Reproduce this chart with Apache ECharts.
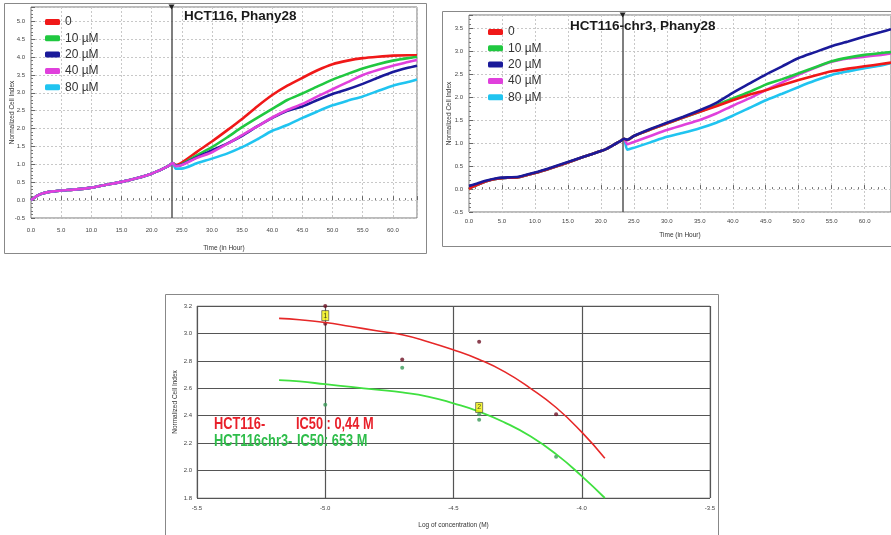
<!DOCTYPE html>
<html>
<head>
<meta charset="UTF-8">
<title>Phany28</title>
<script src="https://cdn.jsdelivr.net/npm/echarts@6/dist/echarts.min.js"></script>
<style>
  * { margin: 0; padding: 0; }
  body { background: #fff; }
  #main { width: 891px; height: 535px; }
</style>
</head>
<body>
<div id="main"></div>
<script>
// time axis (hours) shared by both top panels
var hours = [0, 0.5, 1, 2, 3, 4, 5, 7.5, 10, 12.5, 15, 17.5, 20, 21, 22, 23, 23.5,
             24, 25, 27.5, 30, 32.5, 35, 37.5, 40, 42.5, 45, 47.5, 50, 52.5, 55, 57.5, 60, 62.5, 64];
var treatTime = 23.3;
var doseNames = ['0', '10 µM', '20 µM', '40 µM', '80 µM'];
var doseColors = ['#f01818', '#20c840', '#1a1a9a', '#e040dc', '#20c4f0'];

// HCT116 panel
var preA = [0.0, 0.06, 0.12, 0.19, 0.23, 0.25, 0.27, 0.30, 0.35, 0.43, 0.51, 0.61, 0.74, 0.81, 0.89, 0.98, 1.04];
var a0  = preA.concat([0.98, 1.05, 1.35, 1.64, 1.95, 2.27, 2.62, 2.94, 3.20, 3.42, 3.63, 3.80, 3.90, 3.97, 4.01, 4.04, 4.05, 4.05]);
var a10 = preA.concat([0.97, 1.00, 1.25, 1.48, 1.75, 2.04, 2.30, 2.55, 2.80, 2.98, 3.18, 3.37, 3.53, 3.68, 3.80, 3.90, 3.97, 4.00]);
var a20 = preA.concat([0.96, 0.99, 1.20, 1.39, 1.58, 1.80, 2.06, 2.30, 2.50, 2.62, 2.80, 2.97, 3.10, 3.25, 3.42, 3.58, 3.70, 3.76]);
var a40 = preA.concat([0.95, 0.98, 1.18, 1.34, 1.57, 1.82, 2.06, 2.31, 2.52, 2.69, 2.90, 3.10, 3.30, 3.50, 3.64, 3.76, 3.86, 3.92]);
var a80 = preA.concat([0.88, 0.88, 1.03, 1.16, 1.30, 1.48, 1.70, 1.94, 2.10, 2.30, 2.48, 2.65, 2.78, 2.90, 3.05, 3.20, 3.30, 3.37]);

// HCT116-chr3 panel
var preB = [0.0, 0.05, 0.08, 0.14, 0.19, 0.22, 0.24, 0.26, 0.35, 0.46, 0.58, 0.71, 0.83, 0.89, 0.97, 1.05, 1.10];
var b0  = preB.concat([1.07, 1.16, 1.30, 1.43, 1.56, 1.69, 1.81, 1.94, 2.06, 2.16, 2.27, 2.38, 2.48, 2.57, 2.63, 2.68, 2.73, 2.76]);
var b10 = preB.concat([1.07, 1.16, 1.30, 1.43, 1.56, 1.69, 1.83, 1.98, 2.12, 2.28, 2.40, 2.53, 2.66, 2.79, 2.87, 2.93, 2.97, 2.99]);
var b20 = [0.07, 0.09, 0.11, 0.16, 0.2, 0.23, 0.25, 0.27, 0.36, 0.47, 0.59, 0.71, 0.83, 0.89, 0.97, 1.05, 1.10]
          .concat([1.08, 1.16, 1.31, 1.45, 1.58, 1.72, 1.88, 2.10, 2.30, 2.50, 2.68, 2.86, 2.99, 3.12, 3.22, 3.33, 3.43, 3.49]);
var b40 = preB.concat([0.98, 1.03, 1.16, 1.29, 1.40, 1.51, 1.65, 1.82, 1.98, 2.16, 2.33, 2.50, 2.65, 2.78, 2.85, 2.89, 2.93, 2.96]);
var b80 = preB.concat([0.86, 0.90, 1.02, 1.14, 1.23, 1.33, 1.45, 1.60, 1.77, 1.94, 2.08, 2.23, 2.37, 2.49, 2.57, 2.64, 2.70, 2.75]);

// dose-response panel
var logConc = [-5.18, -5.1, -5.0, -4.9, -4.8, -4.7, -4.6, -4.5, -4.4, -4.3, -4.2, -4.1, -4.0, -3.91];
var fitHct = [3.11, 3.10, 3.08, 3.05, 3.02, 2.99, 2.94, 2.88, 2.81, 2.72, 2.60, 2.46, 2.28, 2.09];
var fitChr = [2.66, 2.65, 2.63, 2.61, 2.59, 2.57, 2.54, 2.49, 2.43, 2.35, 2.25, 2.12, 1.96, 1.80];
var ptsHct = [[-5.0, 3.20], [-5.0, 3.07], [-4.7, 2.81], [-4.4, 2.94], [-4.1, 2.41]];
var ptsChr = [[-5.0, 2.48], [-4.7, 2.75], [-4.4, 2.41], [-4.4, 2.37], [-4.1, 2.10]];
var flags = [[-5.0, 3.13, '1'], [-4.4, 2.46, '2']];

function pairs(xs, ys) {
  return xs.map(function (x, i) { return [x, ys[i]]; });
}

var small = { fontSize: 6, color: '#444', fontFamily: 'Liberation Sans' };
var nameFont = { fontSize: 6.5, color: '#333', fontFamily: 'Liberation Sans' };

function timeAxis(idx, margin, gap) {
  return {
    type: 'value', gridIndex: idx, min: 0, max: 64, interval: 5,
    name: 'Time (in Hour)', nameLocation: 'middle', nameGap: gap,
    nameTextStyle: nameFont, nameMoveOverlap: false,
    axisLine: { show: false },
    axisTick: { inside: true, length: 4, lineStyle: { color: '#666' } },
    minorTick: { show: true, splitNumber: 5, length: 2, lineStyle: { color: '#777' } },
    axisLabel: Object.assign({ margin: margin, showMaxLabel: false,
      formatter: function (v) { return v.toFixed(1); } }, small),
    splitLine: { show: true, lineStyle: { color: '#c8c8c8', type: [2, 2] } }
  };
}
function indexAxis(idx, max, gap) {
  return {
    type: 'value', gridIndex: idx, min: -0.5, max: max, interval: 0.5,
    name: 'Normalized Cell Index', nameLocation: 'middle', nameGap: gap,
    nameTextStyle: nameFont, nameMoveOverlap: false,
    axisLine: { show: false },
    axisTick: { inside: true, length: 4, lineStyle: { color: '#666' } },
    minorTick: { show: true, splitNumber: 5, length: 2, lineStyle: { color: '#777' } },
    axisLabel: Object.assign({ margin: 6, showMaxLabel: false,
      formatter: function (v) { return v.toFixed(1); } }, small),
    splitLine: { show: true, lineStyle: { color: '#c8c8c8', type: [2, 2] } }
  };
}

function doseSeries(gi, names, datas, top) {
  var order = [0, 1, 2, 4, 3];
  if (gi === 1) order = [4, 3, 1, 0, 2];
  return order.map(function (k, j) {
    var s = {
      name: names[k], type: 'line', xAxisIndex: gi, yAxisIndex: gi,
      data: pairs(hours, datas[k]), showSymbol: false, smooth: 0.2,
      lineStyle: { width: 2.6, color: doseColors[k] }, itemStyle: { color: doseColors[k] },
      z: 3 + j
    };
    if (j === 0) {
      s.markLine = {
        silent: true, symbol: 'none', label: { show: false },
        lineStyle: { color: '#555', width: 1.5, type: 'solid' },
        data: [{ xAxis: treatTime }]
      };
      s.markPoint = {
        silent: true, symbol: 'triangle', symbolRotate: 180, symbolSize: [6, 5],
        itemStyle: { color: '#222' }, label: { show: false },
        data: [{ coord: [treatTime, top] }]
      };
    }
    return s;
  });
}

function legendAt(left, top) {
  return {
    left: left, top: top, orient: 'vertical', icon: 'roundRect',
    itemWidth: 15, itemHeight: 6, itemGap: 4.3, itemTextGap: 11,
    textStyle: { fontSize: 12, color: '#333', fontFamily: 'Liberation Sans', lineHeight: 12 },
    data: doseNames
  };
}

var chart = echarts.init(document.getElementById('main'));
var option = {
  backgroundColor: '#fff',
  animation: false,
  grid: [
    { left: 31, top: 7, width: 386, height: 211, show: true, borderColor: '#777', borderWidth: 1 },
    { left: 469, top: 15, width: 428, height: 197, show: true, borderColor: '#777', borderWidth: 1 },
    { left: 197, top: 306, width: 513, height: 192, show: true, borderColor: '#aaa', borderWidth: 1 }
  ],
  legend: [legendAt(40, 11), legendAt(483, 21)],
  xAxis: [
    timeAxis(0, 9, 27),
    timeAxis(1, 6, 20),
    {
      type: 'value', gridIndex: 2, min: -5.5, max: -3.5, interval: 0.5,
      name: 'Log of concentration (M)', nameLocation: 'middle', nameGap: 24,
      nameTextStyle: nameFont, nameMoveOverlap: false,
      axisLine: { show: false }, axisTick: { show: false },
      axisLabel: Object.assign({ margin: 7, formatter: function (v) { return v.toFixed(1); } }, small),
      splitLine: { show: true, lineStyle: { color: '#555', width: 1.2 } }
    }
  ],
  yAxis: [
    indexAxis(0, 5.4, 15.5),
    indexAxis(1, 3.8, 16),
    {
      type: 'value', gridIndex: 2, min: 1.8, max: 3.2, interval: 0.2,
      name: 'Normalized Cell Index', nameLocation: 'middle', nameGap: 18.5,
      nameTextStyle: nameFont, nameMoveOverlap: false,
      axisLine: { show: false }, axisTick: { show: false },
      axisLabel: Object.assign({ margin: 5, formatter: function (v) { return v.toFixed(1); } }, small),
      splitLine: { show: true, lineStyle: { color: '#555', width: 1.2 } }
    }
  ],
  series: [].concat(
    doseSeries(0, doseNames, [a0, a10, a20, a40, a80], 5.4),
    doseSeries(1, doseNames, [b0, b10, b20, b40, b80], 3.8),
    [
      { name: 'HCT116 fit', type: 'line', xAxisIndex: 2, yAxisIndex: 2, data: pairs(logConc, fitHct),
        showSymbol: false, smooth: true, lineStyle: { color: '#e62828', width: 1.6 } },
      { name: 'HCT116chr3 fit', type: 'line', xAxisIndex: 2, yAxisIndex: 2, data: pairs(logConc, fitChr),
        showSymbol: false, smooth: true, lineStyle: { color: '#40e040', width: 1.8 } },
      { name: 'HCT116 pts', type: 'scatter', xAxisIndex: 2, yAxisIndex: 2, data: ptsHct,
        symbolSize: 4, itemStyle: { color: '#6e1224' } },
      { name: 'HCT116chr3 pts', type: 'scatter', xAxisIndex: 2, yAxisIndex: 2, data: ptsChr,
        symbolSize: 4, itemStyle: { color: '#3a9a58' } },
      { name: 'flags', type: 'scatter', xAxisIndex: 2, yAxisIndex: 2, data: flags,
        symbol: 'rect', symbolSize: [7, 10], z: 6,
        itemStyle: { color: '#f2f20a', borderColor: '#444', borderWidth: 0.8 },
        label: { show: true, position: 'inside', fontSize: 7, color: '#222',
          formatter: function (p) { return p.value[2]; } } }
    ]
  ),
  graphic: [
    { type: 'rect', shape: { x: 4.5, y: 3.5, width: 422, height: 250 }, silent: true, z: -1,
      style: { fill: 'none', stroke: '#888', lineWidth: 1 } },
    { type: 'rect', shape: { x: 442.5, y: 11.5, width: 460, height: 235 }, silent: true, z: -1,
      style: { fill: 'none', stroke: '#888', lineWidth: 1 } },
    { type: 'rect', shape: { x: 165.5, y: 294.5, width: 553, height: 245 }, silent: true, z: -1,
      style: { fill: 'none', stroke: '#888', lineWidth: 1 } },
    { type: 'text', x: 184, y: 16, silent: true, z: 10,
      style: { text: 'HCT116, Phany28', font: 'bold 13.5px "Liberation Sans"', fill: '#1a1a1a', verticalAlign: 'middle' } },
    { type: 'text', x: 570, y: 26, silent: true, z: 10,
      style: { text: 'HCT116-chr3, Phany28', font: 'bold 13.5px "Liberation Sans"', fill: '#1a1a1a', verticalAlign: 'middle' } },
    { type: 'text', x: 214, y: 425, scaleX: 0.8, silent: true, z: 10,
      style: { text: 'HCT116-', font: 'bold 16px "Liberation Sans"', fill: '#e8202a', verticalAlign: 'middle' } },
    { type: 'text', x: 296, y: 425, scaleX: 0.8, silent: true, z: 10,
      style: { text: 'IC50 : 0,44 M', font: 'bold 16px "Liberation Sans"', fill: '#e8202a', verticalAlign: 'middle' } },
    { type: 'text', x: 214, y: 442, scaleX: 0.8, silent: true, z: 10,
      style: { text: 'HCT116chr3-', font: 'bold 16px "Liberation Sans"', fill: '#2ebd4a', verticalAlign: 'middle' } },
    { type: 'text', x: 297, y: 442, scaleX: 0.8, silent: true, z: 10,
      style: { text: 'IC50: 653 M', font: 'bold 16px "Liberation Sans"', fill: '#2ebd4a', verticalAlign: 'middle' } }
  ]
};
chart.setOption(option);
</script>
</body>
</html>
